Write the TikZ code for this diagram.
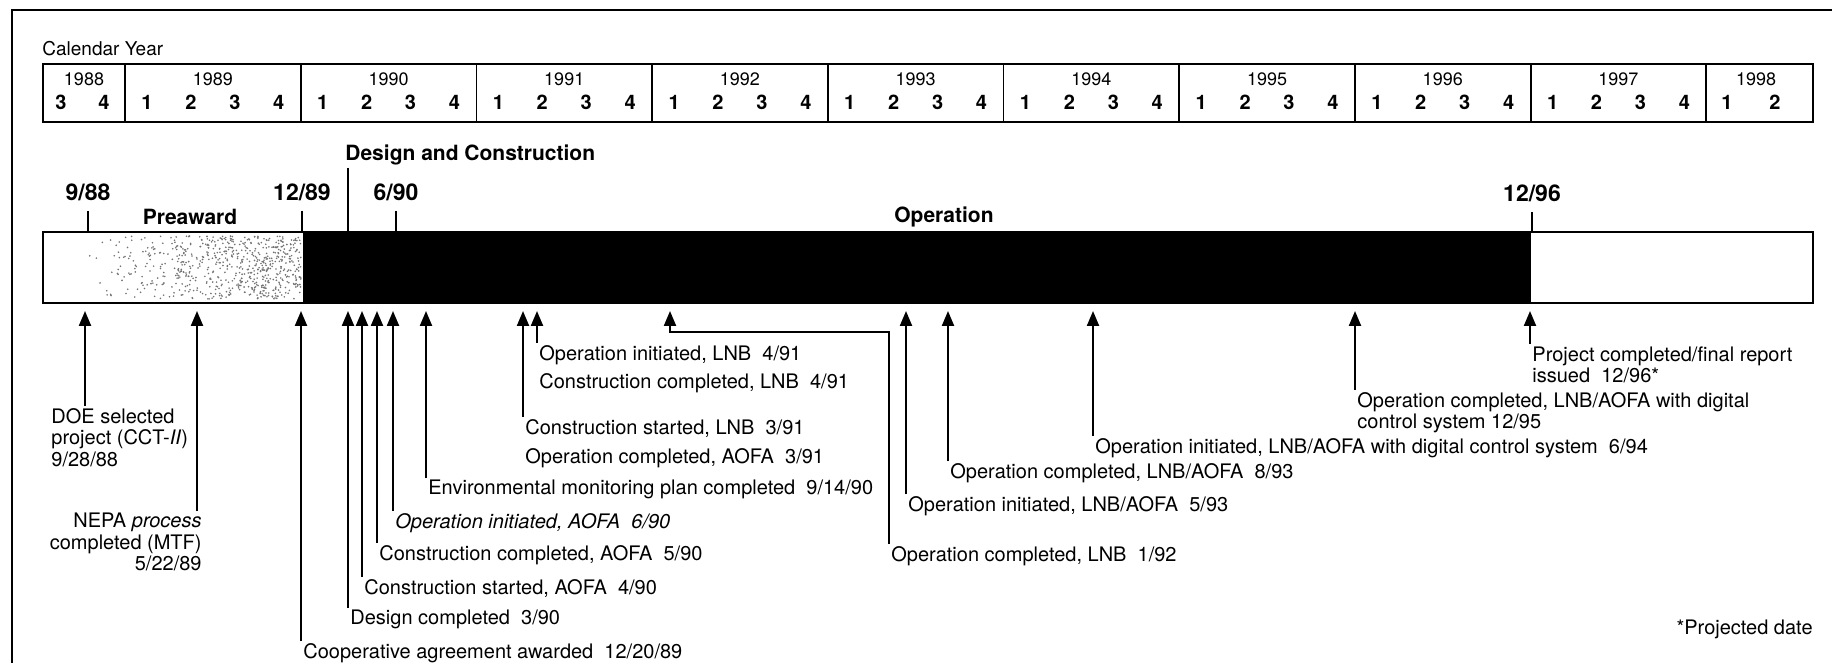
\documentclass[tikz,border=0pt]{standalone}
\usepackage{fontspec}
\setmainfont{TeX Gyre Heros}
\usetikzlibrary{arrows.meta,positioning}

\tikzset{
  evtext/.style={font=\fontsize{10}{10.75}\selectfont,inner sep=1pt,align=left,anchor=north west},
  phase/.style={font=\fontsize{10.5}{12}\selectfont\bfseries,inner sep=1pt},
  bigdate/.style={font=\fontsize{11.5}{13}\selectfont\bfseries,inner sep=1pt},
  yearlbl/.style={font=\fontsize{9}{10}\selectfont,inner sep=0pt},
  qtrlbl/.style={font=\fontsize{10}{11}\selectfont\bfseries,inner sep=0pt},
  evarrow/.style={line width=1.1pt,-{Triangle[width=6pt,length=7.5pt]}},
  tickline/.style={line width=1.1pt},
}

\begin{document}
\begin{tikzpicture}[x=0.5pt,y=0.5pt]
  \useasboundingbox (0,0) rectangle (1832,-663);

  % Page frame, open at right and bottom.
  \draw[line width=1.4pt] (12,-663) -- (12,-10) -- (1832,-10);

  % Calendar strip: years and quarters.
  \node[font=\fontsize{9.5}{11}\selectfont,anchor=base west,inner sep=0pt] (calyear) at (42,-56) {Calendar Year};
  \draw[line width=0.9pt] (43,-64) rectangle (1813,-122);
  \foreach \k in {0,...,9}
    \draw[line width=0.9pt] (125+175.7*\k,-64) -- (125+175.7*\k,-122);
  \node[yearlbl] (y1988) at (84,-79) {1988};
  \foreach \yy [count=\k from 0] in {1989,...,1997}
    \node[yearlbl] (y\yy) at (212.85+175.7*\k,-79) {\yy};
  \node[yearlbl] (y1998) at (1756,-79) {1998};
  \node[qtrlbl] (q88-3) at (61,-102) {3};
  \node[qtrlbl] (q88-4) at (104,-102) {4};
  \foreach \k in {0,...,8}
    \foreach \q in {1,...,4}
      \node[qtrlbl] (q\k-\q) at (103.04+175.7*\k+43.925*\q,-102) {\q};
  \node[qtrlbl] (q98-1) at (1727,-102) {1};
  \node[qtrlbl] (q98-2) at (1775,-102) {2};

  % Phase bar: stippled preaward, black design/operation, open tail.
  \fill (303,-232) rectangle (1531,-303);
  \pgfmathsetseed{1988}
  \foreach \i in {1,...,700}{
    \pgfmathsetmacro{\sx}{86+215*sqrt(rnd)}
    \pgfmathsetmacro{\sy}{-236-63*rnd}
    \fill[black!55] (\sx,\sy) circle (0.45pt);
  }
  \draw[line width=1.3pt] (43,-232) rectangle (1813,-303);
  \coordinate (bartop) at (0,-232);
  \coordinate (tiprow) at (0,-311);
  \coordinate (elbow) at (0,-332);

  % Phase boundaries and names above the bar.
  \node[bigdate] (d0988) at (88,-192) {9/88};
  \node[bigdate] (d1289) at (302,-192) {12/89};
  \node[bigdate] (d0690) at (396,-192) {6/90};
  \node[bigdate] (d1296) at (1532,-193) {12/96};
  \foreach \d in {d0988,d1289,d0690,d1296}
    \draw[tickline] ([yshift=-4pt]\d.south) -- (\d.south |- bartop);
  \node[phase] (preaward) at (190,-217) {Preaward};
  \node[phase] (operation) at (944,-217) {Operation};
  \node[phase,anchor=west] (descon) at (343,-155) {Design and Construction};
  \draw[tickline] ([xshift=2.5pt]descon.south west) -- ([xshift=2.5pt]descon.south west |- bartop);

  % Milestones below the bar.
  \node[evtext] (doe) at (49,-406) {DOE selected\\project (CCT-\textit{II})\\9/28/88};
  \node[evtext,anchor=north east,align=right] (nepa) at (204,-511) {NEPA \textit{process}\\completed (MTF)\\5/22/89};
  \coordinate (a0988) at (85,-311);
  \coordinate (a0589) at (197,-311);
  \draw[evarrow] (a0988 |- doe.north) -- (a0988);
  \draw[evarrow] (a0589 |- nepa.north) -- (a0589);

  \node[evtext] (coop) at (301,-641) {Cooperative agreement awarded~~12/20/89};
  \node[evtext] (descomp) at (348,-608) {Design completed~~3/90};
  \node[evtext] (csaofa) at (362,-577) {Construction started, AOFA~~4/90};
  \node[evtext] (ccaofa) at (377,-543) {Construction completed, AOFA~~5/90};
  \node[evtext] (oiaofa) at (393,-511) {\itshape Operation initiated, AOFA~~6/90};
  \node[evtext] (envplan) at (426,-478) {Environmental monitoring plan completed~~9/14/90};
  \node[evtext] (cslnb) at (523,-417) {Construction started, LNB~~3/91};
  \node[evtext] (ocaofa) at (523,-446) {Operation completed, AOFA~~3/91};
  \node[evtext] (oilnb) at (537,-343) {Operation initiated, LNB~~4/91};
  \node[evtext] (cclnb) at (537,-371) {Construction completed, LNB~~4/91};
  \node[evtext] (oclnb) at (889,-544) {Operation completed, LNB~~1/92};
  \node[evtext] (oi93) at (906,-494) {Operation initiated, LNB/AOFA~~5/93};
  \node[evtext] (oc93) at (948,-461) {Operation completed, LNB/AOFA~~8/93};
  \node[evtext] (oi94) at (1093,-436) {Operation initiated, LNB/AOFA with digital control system~~6/94};
  \node[evtext] (oc95) at (1355,-390) {Operation completed, LNB/AOFA with digital\\control system 12/95};
  \node[evtext] (pc96) at (1530,-344) {Project completed/final report\\issued~~12/96*};
  \foreach \m in {coop,descomp,csaofa,ccaofa,oiaofa,envplan,cslnb,oilnb,oi93,oc93,oi94,oc95,pc96}
    \draw[evarrow] (\m.north west) -- (\m.north west |- tiprow);
  \coordinate (a0192) at (670,-311);
  \draw[evarrow] (oclnb.north west) -- (oclnb.north west |- elbow) -| (a0192);

  \node[font=\fontsize{10}{11}\selectfont,anchor=east,inner sep=0pt] (projnote) at (1813,-629) {*Projected date};
\end{tikzpicture}
\end{document}
